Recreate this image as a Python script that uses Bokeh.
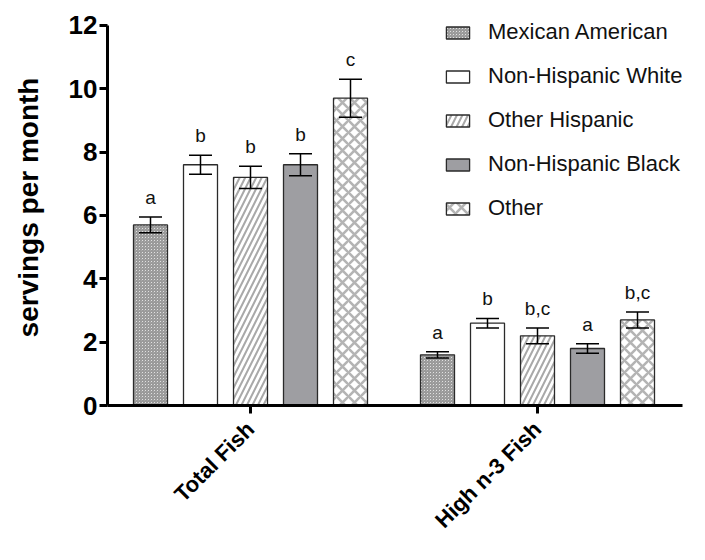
import math
from bokeh.plotting import figure
from bokeh.models import (ColumnDataSource, Range1d, FixedTicker, Whisker, TeeHead,
                          Legend, LegendItem)
from bokeh.core.properties import value
from bokeh.embed import file_html
from bokeh.resources import INLINE

# ---- data ----
groups = ["Total Fish", "High n-3 Fish"]
series = ["Mexican American", "Non-Hispanic White", "Other Hispanic",
          "Non-Hispanic Black", "Other"]
total_fish = [5.7, 7.6, 7.2, 7.6, 9.7]
total_fish_err = [0.25, 0.3, 0.35, 0.35, 0.6]
total_fish_letters = ["a", "b", "b", "b", "c"]
high_n3 = [1.6, 2.6, 2.2, 1.8, 2.7]
high_n3_err = [0.1, 0.15, 0.25, 0.15, 0.25]
high_n3_letters = ["a", "b", "b,c", "a", "b,c"]
y_ticks = [0, 2, 4, 6, 8, 10, 12]

# ---- styles (per series) ----
fills = ["#ffffff", "#ffffff", "#ffffff", "#9e9ea2", "#ffffff"]
hatches = ["criss_cross", "blank", "right_diagonal_line", "blank", "diagonal_cross"]
hatch_colors = ["#9a9a9a", "#ffffff", "#a8a8a8", "#ffffff", "#b4b4b4"]
hatch_scales = [3.0, 10, 11, 10, 12]
hatch_weights = [1.6, 1, 2.0, 1, 2.6]

group_gap = 5.74
bar_w = 0.68

p = figure(width=689, height=544, output_backend="svg", toolbar_location=None,
           x_range=Range1d(-0.86, 10.64), y_range=Range1d(0, 12.5),
           min_border_left=107, min_border_right=7, min_border_top=9,
           min_border_bottom=139)
p.outline_line_color = None
p.xgrid.visible = False
p.ygrid.visible = False
p.background_fill_color = "white"

values = [total_fish, high_n3]
errs = [total_fish_err, high_n3_err]
letters = [total_fish_letters, high_n3_letters]

legend_items = []
for i, name in enumerate(series):
    xs = [g * group_gap + i for g in range(len(groups))]
    tops = [values[g][i] for g in range(len(groups))]
    lo = [values[g][i] - errs[g][i] for g in range(len(groups))]
    hi = [values[g][i] + errs[g][i] for g in range(len(groups))]
    lab = [letters[g][i] for g in range(len(groups))]
    src = ColumnDataSource(dict(x=xs, top=tops, lower=lo, upper=hi, lab=lab))
    r = p.vbar(x="x", top="top", width=bar_w, source=src,
               fill_color=fills[i], line_color="#2a2a2a", line_width=1.3,
               hatch_pattern=hatches[i], hatch_color=hatch_colors[i],
               hatch_scale=hatch_scales[i], hatch_weight=hatch_weights[i])
    legend_items.append(LegendItem(label=name, renderers=[r]))
    w = Whisker(base="x", lower="lower", upper="upper", source=src,
                line_color="black", line_width=1.5, level="overlay",
                upper_head=TeeHead(size=23, line_width=1.5, line_color="black"),
                lower_head=TeeHead(size=23, line_width=1.5, line_color="black"))
    p.add_layout(w)
    p.text(x="x", y="upper", text="lab", source=src, y_offset=-9,
           text_align="center", text_baseline="bottom",
           text_font=value("Liberation Sans"), text_font_size="19px",
           text_color="#111111")

legend = Legend(items=legend_items, location=(336, 184))
legend.label_text_font = "Liberation Sans"
legend.label_text_font_size = "22px"
legend.label_text_color = "#111111"
legend.glyph_width = 29
legend.glyph_height = 15
legend.label_standoff = 16
legend.spacing = 18
legend.padding = 0
legend.margin = 0
legend.border_line_alpha = 0
legend.background_fill_alpha = 0
p.add_layout(legend)

# y axis
ya = p.yaxis[0]
ya.ticker = FixedTicker(ticks=y_ticks)
ya.bounds = (0, 12)
ya.axis_label = "servings per month"
ya.axis_label_text_font = "Liberation Sans"
ya.axis_label_text_font_style = "bold"
ya.axis_label_text_font_size = "28px"
ya.axis_label_text_color = "black"
ya.axis_label_standoff = 22
ya.major_label_text_font = "Liberation Sans"
ya.major_label_text_font_style = "bold"
ya.major_label_text_font_size = "26px"
ya.major_label_text_color = "black"
ya.major_label_standoff = 2
ya.axis_line_width = 3
ya.major_tick_line_width = 3
ya.major_tick_out = 8
ya.major_tick_in = 0
ya.minor_tick_line_color = None

# x axis
xa = p.xaxis[0]
centers = [g * group_gap + (len(series) - 1) / 2 for g in range(len(groups))]
xa.ticker = FixedTicker(ticks=centers)
xa.major_label_overrides = {c: g for c, g in zip(centers, groups)}
xa.major_label_orientation = math.pi / 4
xa.major_label_text_font = "Liberation Sans"
xa.major_label_text_font_style = "bold"
xa.major_label_text_font_size = "22px"
xa.major_label_text_color = "black"
xa.major_label_standoff = 12
xa.axis_line_width = 3
xa.major_tick_line_width = 3
xa.major_tick_out = 8
xa.major_tick_in = 0
xa.minor_tick_line_color = None

open("out.html", "w").write(file_html(p, INLINE))
